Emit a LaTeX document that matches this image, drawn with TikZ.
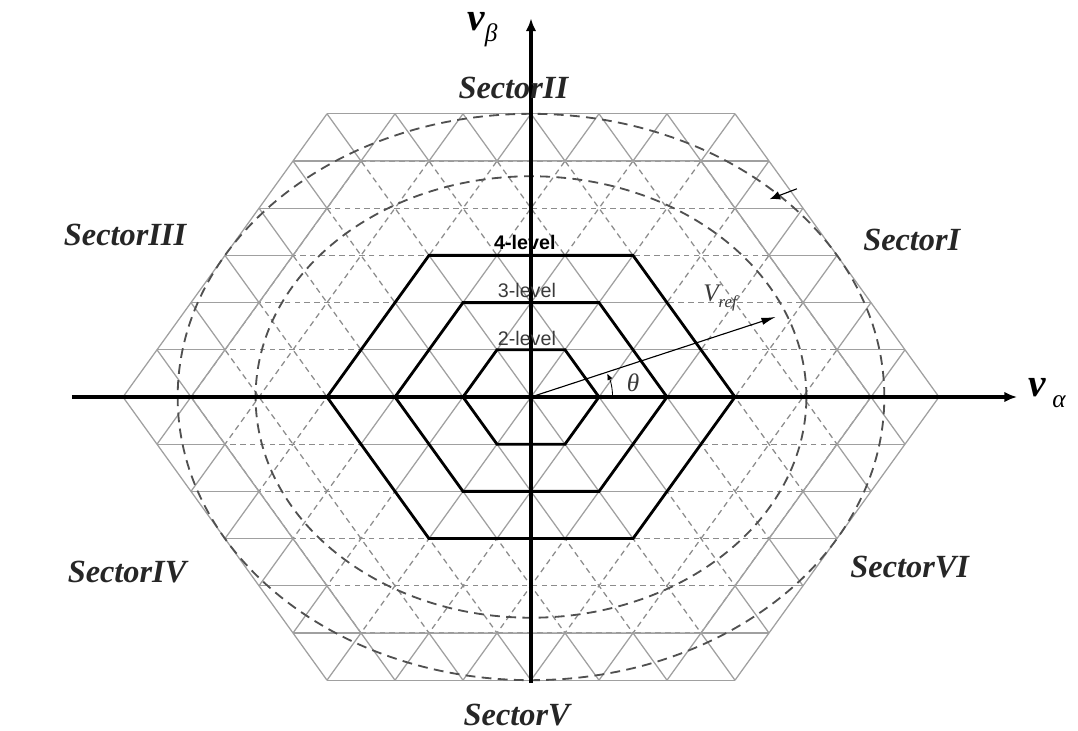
\documentclass[tikz,border=0pt]{standalone}
\usepackage{fontspec}
\setmainfont{Liberation Serif}
\newfontfamily\lvlfont{Liberation Sans}
\usepackage{graphicx}
\usepackage{tikz}
\usetikzlibrary{arrows.meta}
\definecolor{gridgray}{HTML}{A0A0A0}
\definecolor{dashgray}{HTML}{8C8C8C}
\definecolor{ringgray}{HTML}{505050}
\definecolor{lvlgray}{HTML}{3A3A3A}

\begin{document}
\begin{tikzpicture}[
    x=1.7cm, y=1.3625cm,
    lattice/.style={gridgray, line width=0.9pt},
    dlattice/.style={dashgray, line width=0.9pt, dash pattern=on 4pt off 3pt},
    ring/.style={ringgray, line width=1.3pt, dash pattern=on 7pt off 4.5pt},
    hexline/.style={black, line width=2pt, line join=miter},
    ax/.style={black, line width=2.4pt, -{Latex[length=3.2mm, width=2.6mm]}},
    vec/.style={black, line width=0.8pt, -{Latex[length=3.6mm, width=1.8mm]}},
    sector/.style={font=\fontsize{23}{26}\selectfont\bfseries\itshape, text=black!85},
    lvl/.style={font=\lvlfont\fontsize{14}{16}\selectfont, text=lvlgray, inner sep=1pt},
    axlabel/.style={font=\fontsize{28}{30}\selectfont\bfseries\itshape, inner sep=0pt, anchor=north west},
  ]
  \useasboundingbox (-13.275cm,-8.35cm) rectangle (13.675cm,9.925cm);

  % Solid lattice (inside 4-level and outer ring)
  \begin{scope}
    \clip (0:6.4) \foreach \i in {1,...,5}{ -- (\i*60:6.4)} -- cycle
          (0:5) \foreach \i in {1,...,5}{ -- (-\i*60:5)} -- cycle
          (0:3) \foreach \i in {1,...,5}{ -- (\i*60:3)} -- cycle;
    \foreach \r in {0,60,120}
      \foreach \k in {-6,...,6} {
        \pgfmathsetmacro\xe{6-abs(\k)/2}
        \pgfmathsetmacro\ye{\k*sqrt(3)/2}
        \draw[lattice] ({cos(\r)*\xe-sin(\r)*(\ye)},{sin(\r)*\xe+cos(\r)*(\ye)})
          -- ({-cos(\r)*\xe-sin(\r)*(\ye)},{-sin(\r)*\xe+cos(\r)*(\ye)});
      }
  \end{scope}

  % Dashed lattice (ring between 3 and 5)
  \begin{scope}
    \clip (0:5) \foreach \i in {1,...,5}{ -- (\i*60:5)} -- cycle
          (0:3) \foreach \i in {1,...,5}{ -- (-\i*60:3)} -- cycle;
    \foreach \r in {0,60,120}
      \foreach \k in {-6,...,6} {
        \pgfmathsetmacro\xe{6-abs(\k)/2}
        \pgfmathsetmacro\ye{\k*sqrt(3)/2}
        \draw[dlattice] ({cos(\r)*\xe-sin(\r)*(\ye)},{sin(\r)*\xe+cos(\r)*(\ye)})
          -- ({-cos(\r)*\xe-sin(\r)*(\ye)},{-sin(\r)*\xe+cos(\r)*(\ye)});
      }
  \end{scope}
  \draw[lattice] (0:5) \foreach \i in {1,...,5}{ -- (\i*60:5)} -- cycle;

  % Circles
  \draw[ring] (0,0) circle [radius=5.196];
  \draw[ring] (0,0) circle [radius=4.05];

  % Level hexagons
  \foreach \n in {1,2,3}
    \draw[hexline] (0:\n) \foreach \i in {1,...,5}{ -- (\i*60:\n)} -- cycle;

  % Axes
  \coordinate (O) at (0,0);
  \coordinate (xl) at (-6.75,0);
  \coordinate (xr) at (7.15,0);
  \coordinate (yb) at (0,-5.25);
  \coordinate (yt) at (0,6.95);
  \draw[ax] (xl) -- (xr);
  \draw[ax] (yb) -- (yt);

  % Reference vector
  \coordinate (reftip) at (3.6,1.47);
  \draw[vec] (O) -- (reftip);
  \draw[black, line width=0.6pt, -{Latex[length=1.6mm, width=1.4mm]}]
    (1.2,0) arc [start angle=0, end angle=21, radius=1.2];
  \coordinate (arrs) at (3.91,3.82);
  \coordinate (arre) at (3.51,3.63);
  \draw[black, line width=0.8pt, -{Latex[length=2.6mm, width=2.2mm]}] (arrs) -- (arre);

  % Labels
  \node[axlabel] (vb) at (-0.94,7.06) {v\raisebox{-8pt}{\fontsize{18}{18}\selectfont\mdseries β}};
  \node[axlabel] (va) at (7.31,0.35) {v\,\raisebox{-8pt}{\fontsize{18}{18}\selectfont\mdseries α}};
  \node[lvl, font=\lvlfont\fontsize{14}{16}\selectfont\bfseries, text=black] (lvl4) at (-0.09,2.83) {4-level};
  \node[lvl] (lvl3) at (-0.06,1.96) {3-level};
  \node[lvl] (lvl2) at (-0.06,1.08) {2-level};
  \node[font=\fontsize{18}{20}\selectfont\itshape, text=lvlgray] (vref) at (2.78,1.82)
    {V\raisebox{-4pt}{\fontsize{12}{12}\selectfont ref}};
  \node[font=\fontsize{18}{20}\selectfont\itshape, text=lvlgray] (th) at (1.5,0.26) {θ};

  \node[sector] (s1) at (5.60,2.88) {SectorI};
  \node[sector] (s2) at (-0.26,5.67) {SectorII};
  \node[sector] (s3) at (-5.97,2.97) {SectorIII};
  \node[sector] (s4) at (-5.94,-3.21) {SectorIV};
  \node[sector] (s5) at (-0.21,-5.83) {SectorV};
  \node[sector] (s6) at (5.57,-3.12) {SectorVI};
\end{tikzpicture}
\end{document}
